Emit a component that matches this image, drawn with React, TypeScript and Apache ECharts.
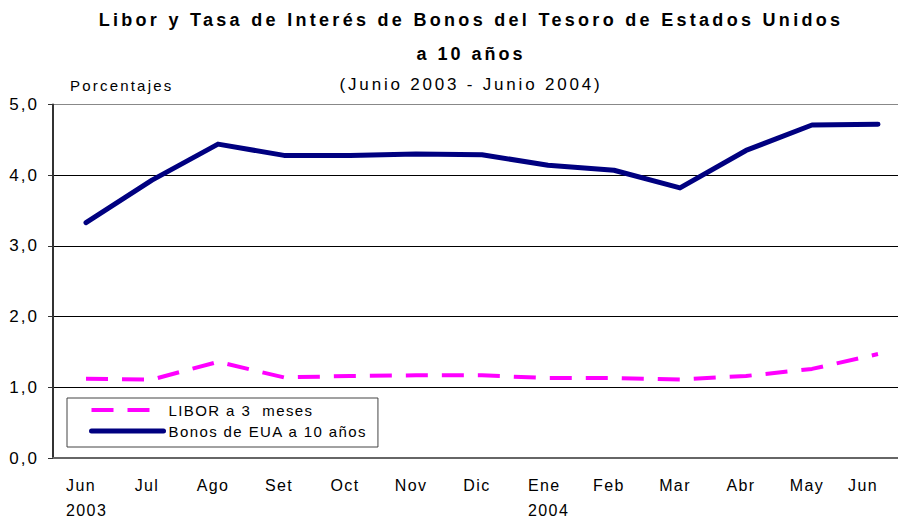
import React, { useEffect, useRef } from "react";
import * as echarts from "echarts";

const categories = ["Jun\n2003", "Jul", "Ago", "Set", "Oct", "Nov", "Dic", "Ene\n2004", "Feb", "Mar", "Abr", "May", "Jun"];
const libor = [1.12, 1.11, 1.36, 1.14, 1.16, 1.17, 1.17, 1.13, 1.13, 1.11, 1.16, 1.26, 1.47];
const bonos = [3.33, 3.93, 4.44, 4.28, 4.28, 4.30, 4.29, 4.14, 4.07, 3.82, 4.35, 4.71, 4.72];
const titleLine1 = "Libor y Tasa de Interés de Bonos del Tesoro de Estados Unidos";
const titleLine2 = "a 10 años";
const subTitle = "(Junio 2003 - Junio 2004)";
const unitLabel = "Porcentajes";
const liborName = "LIBOR a 3  meses";
const bonosName = "Bonos de EUA a 10 años";

const FONT = "'Liberation Sans', Arial, Helvetica, sans-serif";

export default function App() {
  const ref = useRef<HTMLDivElement>(null);
  useEffect(() => {
    if (!ref.current) return;
    const chart = echarts.init(ref.current, null, { renderer: "svg" });
    const fix = () => {
      if (!ref.current) return;
      ref.current.querySelectorAll("text").forEach((t) => {
        const s = t.textContent || "";
        const st = (t as any).style;
        if (s === titleLine1) st.letterSpacing = "3.3px";
        else if (s === titleLine2) st.letterSpacing = "3px";
        else if (s === subTitle) st.letterSpacing = "2.8px";
        else if (s === unitLabel) st.letterSpacing = "2.2px";
        else if (/^\d,\d$/.test(s)) st.letterSpacing = "2px";
      });
    };
    chart.on("finished", fix);
    const labelFont = { fontSize: 16, color: "#000", fontFamily: FONT, lineHeight: 25 };
    chart.setOption({
      animation: false,
      textStyle: { fontFamily: FONT },
      grid: [
        { left: 53, right: -13, top: 104.5, bottom: 59, containLabel: false, outerBoundsMode: "none" },
        { left: 48, right: -8, top: 104.5, bottom: 59, containLabel: false, outerBoundsMode: "none" },
      ],
      graphic: [
        { type: "text", x: 471, y: 20, style: { text: titleLine1, textAlign: "center", textVerticalAlign: "middle", font: `bold 18px ${FONT}`, fill: "#000" } },
        { type: "text", x: 471, y: 54, style: { text: titleLine2, textAlign: "center", textVerticalAlign: "middle", font: `bold 18px ${FONT}`, fill: "#000" } },
        { type: "text", x: 471, y: 84, style: { text: subTitle, textAlign: "center", textVerticalAlign: "middle", font: `17px ${FONT}`, fill: "#000" } },
        { type: "text", x: 70, y: 85, style: { text: unitLabel, textAlign: "left", textVerticalAlign: "middle", font: `15px ${FONT}`, fill: "#000" } },
      ],
      legend: {
        orient: "vertical",
        left: 67,
        top: 398,
        borderColor: "#444",
        borderWidth: 1,
        padding: [3, 41, 7, 22],
        itemGap: 3,
        itemWidth: 72,
        itemHeight: 14,
        itemStyle: { opacity: 0 },
        textStyle: { fontSize: 15, color: "#000", fontFamily: FONT, lineHeight: 18 },
        data: [
          { name: liborName, lineStyle: { width: 4, type: [22, 14], color: "#FF00FF" } },
          { name: bonosName, lineStyle: { width: 5, color: "#000080", cap: "round" } },
        ],
      },
      xAxis: [
        {
          type: "category",
          gridIndex: 0,
          data: categories,
          boundaryGap: true,
          axisTick: { show: false },
          axisLabel: { show: false },
          axisLine: { lineStyle: { color: "#666", width: 2 } },
        },
        {
          type: "category",
          gridIndex: 1,
          data: categories,
          boundaryGap: true,
          axisTick: { show: false },
          axisLine: { show: false },
          splitLine: { show: false },
          axisLabel: {
            interval: 0,
            margin: 14.5,
            ...labelFont,
            formatter: (v: string, i: number) => {
              if (v.indexOf("\n") >= 0) return v.split("\n").map((p) => `{m|${p}}`).join("\n");
              if (i === categories.length - 1) return `{e|${v}}`;
              return v;
            },
            rich: {
              m: { ...labelFont, width: 30, align: "left" },
              e: { ...labelFont, padding: [0, 20, 0, 0] },
            },
          },
        },
      ],
      yAxis: [
        {
          type: "value",
          gridIndex: 0,
          min: 0,
          max: 5,
          interval: 1,
          axisLine: { show: true, lineStyle: { color: "#333", width: 2 } },
          axisTick: { show: true, length: 5, lineStyle: { color: "#333" } },
          axisLabel: {
            fontSize: 17,
            color: "#000",
            margin: 14,
            fontFamily: FONT,
            formatter: (v: number) => v.toFixed(1).replace(".", ","),
          },
          splitLine: { show: true, lineStyle: { color: ["#000", "#000", "#000", "#000", "#000", "#888"], width: 1 } },
        },
        {
          type: "value",
          gridIndex: 1,
          min: 0,
          max: 5,
          interval: 1,
          show: false,
          splitLine: { show: false },
        },
      ],
      series: [
        {
          name: liborName,
          type: "line",
          xAxisIndex: 0,
          yAxisIndex: 0,
          data: libor,
          symbol: "none",
          lineStyle: { color: "#FF00FF", width: 4, type: [22, 14] },
          itemStyle: { color: "#FF00FF" },
        },
        {
          name: bonosName,
          type: "line",
          xAxisIndex: 0,
          yAxisIndex: 0,
          data: bonos,
          symbol: "none",
          lineStyle: { color: "#000080", width: 5, cap: "round", join: "round" },
          itemStyle: { color: "#000080" },
        },
      ],
    });
    fix();
    return () => {
      chart.dispose();
    };
  }, []);
  return (
    <>
      <style>{`body{margin:0} .chartbox svg text{letter-spacing:1.4px}`}</style>
      <div className="chartbox" ref={ref} style={{ position: "absolute", left: 0, top: 0, width: 898, height: 517 }} />
    </>
  );
}
